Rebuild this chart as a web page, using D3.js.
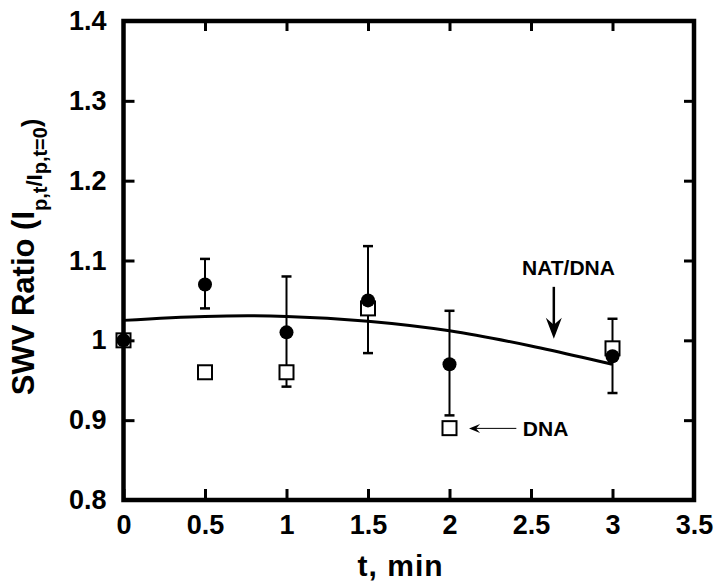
<!DOCTYPE html>
<html>
<head>
<meta charset="utf-8">
<script src="https://cdn.jsdelivr.net/npm/d3@7"></script>
<style>
  body { margin: 0; background: #fff; }
  text { font-family: "Liberation Sans", Arial, sans-serif; font-weight: bold; fill: #000; }
</style>
</head>
<body>
<div id="chart"></div>
<script>
// data
const times = [0, 0.5, 1, 1.5, 2, 3];
// NAT/DNA (filled circles) with error bars
const natDna = [1.0, 1.07, 1.01, 1.05, 0.97, 0.98];
const natLow = [1.0, 1.04, 0.942, 0.984, 0.906, 0.934];
const natHigh = [1.0, 1.102, 1.08, 1.118, 1.037, 1.027];
// DNA (open squares)
const dna = [1.0, 0.96, 0.96, 1.04, 0.89, 0.99];
// fitted curve
const fitT = [0, 0.5, 1, 1.5, 2, 2.5, 3];
const fitY = [1.025, 1.03, 1.03, 1.024, 1.012, 0.993, 0.97];
const xTicks = [0, 0.5, 1, 1.5, 2, 2.5, 3, 3.5];
const yTicks = [0.8, 0.9, 1.0, 1.1, 1.2, 1.3, 1.4];

const W = 716, H = 582;
const margin = {top: 21, right: 22, bottom: 82, left: 123.5};
const width = W - margin.left - margin.right,
    height = H - margin.top - margin.bottom;

const svg = d3.select("#chart").append("svg")
    .attr("width", W).attr("height", H)
  .append("g")
    .attr("transform", `translate(${margin.left},${margin.top})`);

const x = d3.scaleLinear().domain([0, 3.5]).range([0, width]);
const y = d3.scaleLinear().domain([0.8, 1.4]).range([height, 0]);

const fmt = d => d === 1 ? "1" : d3.format("")(d);

// axes (ticks point inward)
const xb = svg.append("g")
    .attr("transform", `translate(0,${height})`)
    .call(d3.axisBottom(x).tickValues(xTicks).tickSize(-11).tickPadding(15).tickFormat(fmt));
const yl = svg.append("g")
    .call(d3.axisLeft(y).tickValues(yTicks).tickSize(-11).tickPadding(17).tickFormat(fmt));
const xt = svg.append("g")
    .call(d3.axisTop(x).tickValues(xTicks.slice(1, -1)).tickSize(-10).tickFormat(""));
const yr = svg.append("g")
    .attr("transform", `translate(${width},0)`)
    .call(d3.axisRight(y).tickValues(yTicks.slice(1, -1)).tickSize(-10).tickFormat(""));

[xb, yl, xt, yr].forEach(g => {
  g.select(".domain").remove();
  g.selectAll(".tick line").attr("stroke", "#000").attr("stroke-width", 3);
  g.selectAll(".tick text").style("font-size", "27px").style("font-family", null);
});

// frame
svg.append("rect")
    .attr("width", width).attr("height", height)
    .attr("fill", "none").attr("stroke", "#000").attr("stroke-width", 4.5);

// axis titles
svg.append("text")
    .attr("x", x(1.7)).attr("y", height + 76)
    .attr("text-anchor", "middle")
    .style("font-size", "30px")
    .style("letter-spacing", "1px")
    .text("t, min");

const yt = svg.append("text")
    .attr("transform", `translate(${34 - margin.left},${257 - margin.top}) rotate(-90)`)
    .attr("text-anchor", "middle")
    .style("font-size", "31px");
yt.append("tspan").text("SWV Ratio (I");
yt.append("tspan").attr("dy", 13).style("font-size", "20px").text("p,t");
yt.append("tspan").attr("dy", -5).style("font-size", "22px").text("/I");
yt.append("tspan").attr("dy", 5).style("font-size", "20px").text("p,t=0");
yt.append("tspan").attr("dy", -7).style("font-size", "25px").text(")");

// fitted curve
const pts = fitT.map((t, i) => [t, fitY[i]]);
svg.append("path")
    .datum(pts)
    .attr("fill", "none").attr("stroke", "#000").attr("stroke-width", 3)
    .attr("d", d3.line().x(d => x(d[0])).y(d => y(d[1])).curve(d3.curveCatmullRom));

// error bars
const rows = times.map((t, i) => ({t: t, v: natDna[i], lo: natLow[i], hi: natHigh[i], d: dna[i]}));
const eb = svg.append("g").attr("stroke", "#000");
rows.filter(d => d.hi > d.lo).forEach(d => {
  eb.append("line").attr("x1", x(d.t)).attr("x2", x(d.t))
      .attr("y1", y(d.lo)).attr("y2", y(d.hi)).attr("stroke-width", 2);
  [d.lo, d.hi].forEach(v => {
    eb.append("line").attr("x1", x(d.t) - 5).attr("x2", x(d.t) + 5)
        .attr("y1", y(v)).attr("y2", y(v)).attr("stroke-width", 2.5);
  });
});

// DNA squares
svg.selectAll(".sq")
  .data(rows)
  .join("rect")
    .attr("class", "sq")
    .attr("x", d => x(d.t) - 7).attr("y", d => y(d.d) - 7)
    .attr("width", 14).attr("height", 14)
    .attr("fill", "#fff").attr("stroke", "#000").attr("stroke-width", 2);

// NAT/DNA circles
svg.selectAll(".dot")
  .data(rows)
  .join("circle")
    .attr("class", "dot")
    .attr("cx", d => x(d.t)).attr("cy", d => y(d.v))
    .attr("r", 7).attr("fill", "#000");

// annotations (data units)
const natLabel = {t: 2.73, v: 1.082, text: "NAT/DNA"};
const natArrow = {t: 2.64, from: 1.067, to: 1.002};
const dnaLabel = {t: 2.45, v: 0.8805, text: "DNA"};
const dnaArrow = {from: 2.41, to: 2.12, v: 0.8897};

svg.append("text")
    .attr("x", x(natLabel.t)).attr("y", y(natLabel.v))
    .attr("text-anchor", "middle").style("font-size", "21px")
    .text(natLabel.text);
svg.append("line")
    .attr("x1", x(natArrow.t)).attr("x2", x(natArrow.t))
    .attr("y1", y(natArrow.from)).attr("y2", y(natArrow.to) - 12)
    .attr("stroke", "#000").attr("stroke-width", 2.5);
svg.append("path")
    .attr("transform", `translate(${x(natArrow.t)},${y(natArrow.to)})`)
    .attr("d", "M0,0 L-8,-21 L0,-14 L8,-21 Z")
    .attr("fill", "#000");

svg.append("text")
    .attr("x", x(dnaLabel.t)).attr("y", y(dnaLabel.v))
    .style("font-size", "21px")
    .text(dnaLabel.text);
svg.append("line")
    .attr("x1", x(dnaArrow.from)).attr("x2", x(dnaArrow.to) + 6)
    .attr("y1", y(dnaArrow.v)).attr("y2", y(dnaArrow.v))
    .attr("stroke", "#000").attr("stroke-width", 1);
svg.append("path")
    .attr("transform", `translate(${x(dnaArrow.to)},${y(dnaArrow.v)})`)
    .attr("d", "M0,0 L11,-4.5 L7,0 L11,4.5 Z")
    .attr("fill", "#000");
</script>
</body>
</html>
